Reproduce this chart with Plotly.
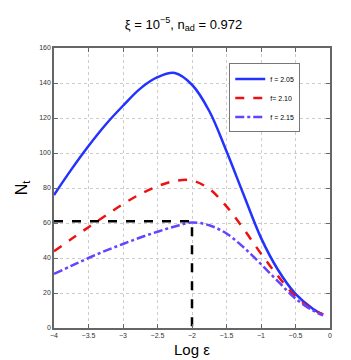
import plotly.graph_objects as go

# log epsilon samples
log_eps = [-4, -3.75, -3.5, -3.25, -3, -2.75, -2.5, -2.25, -2, -1.75,
           -1.5, -1.25, -1, -0.75, -0.5, -0.25, -0.1]

# N_t for each f
n_f205 = [76, 90.5, 104, 116.3, 127, 136.8, 143.3, 145.7, 139, 124,
          101, 76, 51.5, 33, 19.5, 11, 7.6]
n_f210 = [43.8, 50.8, 57.6, 64.3, 70.8, 76.5, 81, 84, 84.3, 79.5,
          69.5, 56.5, 42.5, 29.5, 18, 10.5, 7.8]
n_f215 = [30.9, 35.5, 40, 44.2, 48, 51.7, 55, 58, 60.3, 58.7,
          54, 46, 36.5, 26.5, 16.8, 10, 7.2]

# dashed guide to the f = 2.15 peak
guide_x = [-4, -2, -2]
guide_y = [61, 61, 0]

fig = go.Figure()
fig.add_trace(go.Scatter(x=log_eps, y=n_f205, mode='lines', name='f = 2.05',
                         line=dict(color='#2233ff', width=2.5, shape='spline')))
fig.add_trace(go.Scatter(x=log_eps, y=n_f210, mode='lines', name='f= 2.10',
                         line=dict(color='#ee1111', width=2.5, dash='dash', shape='spline')))
fig.add_trace(go.Scatter(x=log_eps, y=n_f215, mode='lines', name='f = 2.15',
                         line=dict(color='#6644ff', width=2.5, dash='dashdot', shape='spline')))
fig.add_trace(go.Scatter(x=guide_x, y=guide_y, mode='lines', showlegend=False,
                         line=dict(color='black', width=2.5, dash='dash')))

axis_style = dict(showline=True, linecolor='#666666', linewidth=1.5, mirror='ticks',
                  ticks='inside', ticklen=4, tickcolor='#666666',
                  showgrid=True, gridcolor='#cccccc', griddash='dot', gridwidth=1,
                  zeroline=False, tickfont=dict(size=7, color='#333333'))

fig.update_layout(
    width=351, height=360,
    margin=dict(l=46, r=29, t=40, b=40),
    paper_bgcolor='white', plot_bgcolor='white',
    font=dict(family='Liberation Sans, Arial, sans-serif', color='black'),
    title=dict(text='ξ = 10<sup>−5</sup>, n<sub>ad</sub> = 0.972', x=0.5, xanchor='center',
               y=0.955, yanchor='middle', font=dict(size=13)),
    xaxis=dict(range=[-4, 0], dtick=0.5, **axis_style),
    yaxis=dict(range=[0, 160], dtick=20,
               title=dict(text='N<sub>t</sub>', font=dict(size=16), standoff=8), **axis_style),
    legend=dict(x=0.635, y=0.945, xanchor='left', yanchor='top',
                bgcolor='white', bordercolor='#777777', borderwidth=1,
                font=dict(size=7), itemwidth=30),
)

# x axis label placed just under the tick labels
fig.add_annotation(text='Log ε', x=0.5, y=-0.075, xref='paper', yref='paper',
                   xanchor='center', yanchor='middle', showarrow=False,
                   font=dict(size=15))

fig.write_html("out.html")
